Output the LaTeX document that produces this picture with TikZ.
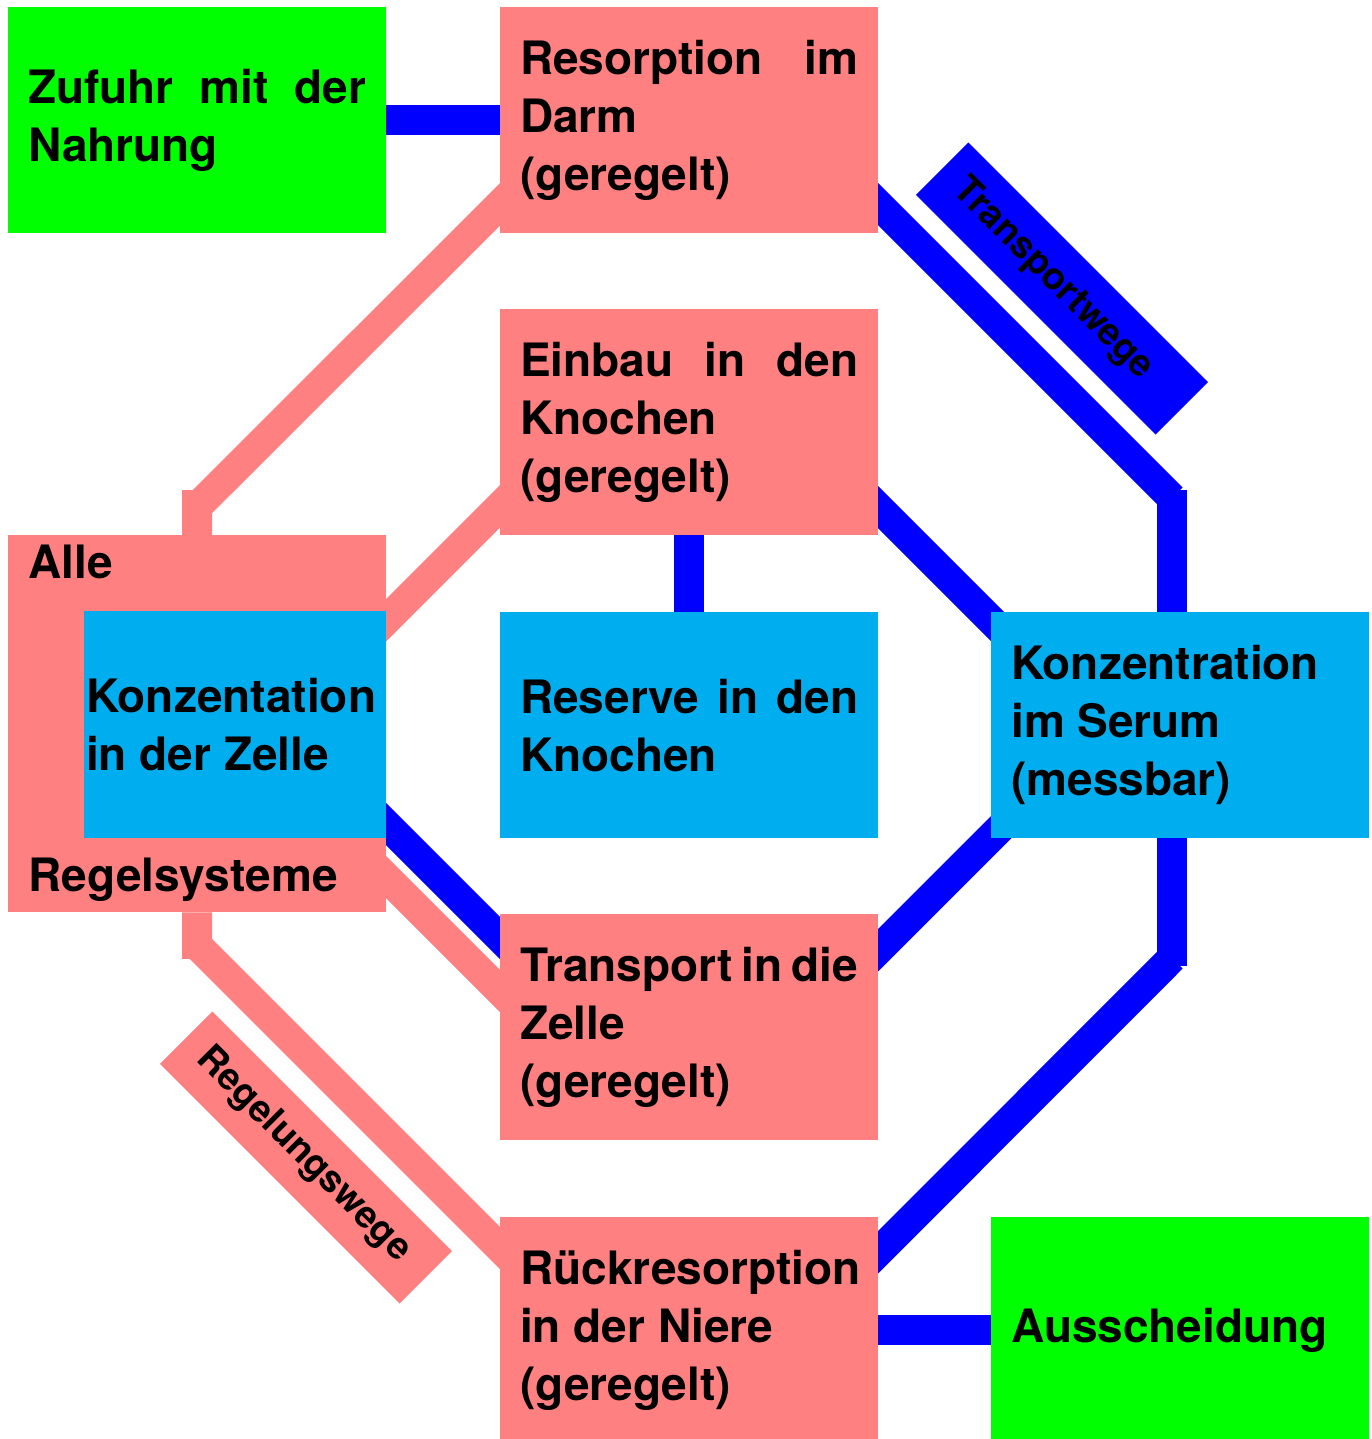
\documentclass[tikz,border=0pt]{standalone}
\usepackage{fontspec}
\setmainfont{TeX Gyre Heros}
\usetikzlibrary{calc}
\pgfdeclarelayer{bg}
\pgfsetlayers{bg,main}
\definecolor{cgreen}{RGB}{0,255,0}
\definecolor{cpink}{RGB}{255,128,128}
\definecolor{clight}{RGB}{0,174,239}
\definecolor{cblue}{RGB}{0,0,255}
\newcommand\boxfont{\fontsize{46}{58}\selectfont\bfseries\hyphenpenalty=10000\relax}
\newcommand\labfont{\fontsize{37.5}{44}\selectfont\bfseries}
\newcommand\rs{\spaceskip=0pt\xspaceskip=0pt\relax}
\newcommand\jline[1]{{\rs\makebox[338pt][s]{#1}}}
\begin{document}
\begin{tikzpicture}[x=1pt,y=-1pt,
  box/.style={rectangle, inner sep=0pt, minimum width=378pt, minimum height=226pt,
    text width=338pt, align=left, font=\boxfont, anchor=north west},
  band/.style={rectangle, rotate=-45, minimum width=339pt, minimum height=74pt,
    text width=293pt, inner xsep=23pt, inner ysep=0pt, align=left, font=\labfont},
  plain/.style={anchor=base west, inner sep=0pt, font=\boxfont},
  bline/.style={draw=cblue, line width=30pt},
  pline/.style={draw=cpink, line width=30pt}]
\useasboundingbox (0,0) rectangle (1372,1439);
% boxes
\node[box, fill=cgreen] (zuf) at (8,7) {\rs\jline{Zufuhr mit der}\\Nahrung};
\node[box, fill=cpink] (res) at (500,7) {\rs\jline{Resorption im}\\Darm\\(geregelt)};
\node[box, fill=cpink] (ein) at (500,309) {\rs\jline{Einbau in den}\\Knochen\\(geregelt)};
\node[box, fill=cpink, minimum height=377pt] (alle) at (8,535) {};
\node[box, fill=clight, minimum width=302pt, minimum height=227pt, text width=298pt] (kz) at (84,611) {\rs Konzentation\\in der Zelle};
\node[box, fill=clight] (rsv) at (500,612) {\rs\jline{Reserve in den}\\Knochen};
\node[box, fill=clight] (ser) at (991,612) {\rs Konzentration\\im Serum\\(messbar)};
\node[box, fill=cpink] (tra) at (500,914) {\rs\jline{Transport in die}\\Zelle\\(geregelt)};
\node[box, fill=cpink] (rue) at (500,1217) {\rs Rückresorption\\in der Niere\\(geregelt)};
\node[box, fill=cgreen] (aus) at (991,1217) {\rs Ausscheidung};
\node[plain] (alleA) at (28.5,578) {Alle};
\node[plain] (alleR) at (28.5,891) {Regelsysteme};
% labels
\node[band, fill=cblue] (lt) at (1062,288.5) {Transportwege};
\node[band, fill=cpink] (lr) at (306,1157.5) {Regelungswege};
% bend points
\coordinate (cr1) at (1172,498);
\coordinate (cr1t) at (1172,490);
\coordinate (cr2) at (1172,958);
\coordinate (cr2b) at (1172,966);
\coordinate (cl1) at (197,507);
\coordinate (cl1t) at (197,490);
\coordinate (cl2) at (197,945);
\coordinate (cl2b) at (197,959);
\begin{pgfonlayer}{bg}
% blue transport paths
\draw[bline] (zuf.east) -- (res.west);
\draw[bline] ($(res.south east)+(-20,-49)$) -- (cr1);
\draw[bline] (cr1t) -- (cr1t |- ser.north);
\draw[bline] (cr2b |- ser.south) -- (cr2b);
\draw[bline] (cr2) -- ($(rue.north east)+(-20,55)$);
\draw[bline] ($(ein.south east)+(-20,-48)$) -- ($(ser.north west)+(20,28)$);
\draw[bline] ($(ser.south west)+(20,-21)$) -- ($(tra.north east)+(-20,56)$);
\draw[bline] (ein.south) -- (rsv.north);
\draw[bline] ($(kz.south east)+(-20,-34)$) -- ($(tra.north west)+(20,44)$);
\draw[bline] (rue.east) -- (aus.west);
% pink regulation paths
\draw[pline] ($(res.south west)+(20,-49)$) -- (cl1);
\draw[pline] (cl1t) -- (alle.north);
\draw[pline] ($(ein.south west)+(20,-49)$) -- ($(alle.north east)+(-20,105)$);
\draw[pline] ($(alle.south east)+(-20,-55)$) -- ($(tra.north west)+(20,97)$);
\draw[pline] (alle.south) -- (cl2b);
\draw[pline] (cl2) -- ($(rue.north west)+(20,51)$);
\end{pgfonlayer}
\end{tikzpicture}
\end{document}
